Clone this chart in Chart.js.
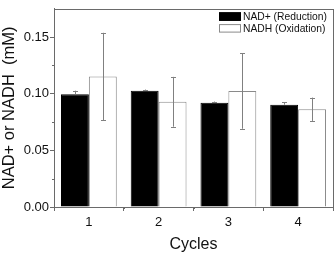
<!DOCTYPE html>
<html>
<head>
<meta charset="utf-8">
<script src="https://cdn.jsdelivr.net/npm/chart.js@4/dist/chart.umd.min.js"></script>
<style>
  html, body { margin: 0; padding: 0; background: #fff; }
  #wrap { width: 336px; height: 254px; }
</style>
</head>
<body>
<div id="wrap"><canvas id="chart" width="336" height="254"></canvas></div>
<script>
// Data
const cycles = ['1', '2', '3', '4'];
const nadValues = [0.0995, 0.1027, 0.0921, 0.0903];
const nadErrors = [0.0032, 0.0010, 0.0010, 0.0023];
const nadhValues = [0.1153, 0.0929, 0.1024, 0.0863];
const nadhErrors = [0.0385, 0.0220, 0.0333, 0.0103];
const yTicks = [0, 0.05, 0.10, 0.15];
const yMinorTicks = [0.025, 0.075, 0.125];

const FONT = "'Liberation Sans', Arial, sans-serif";
const FRAME = '#6a6a6a';

// Error bars, drawn over the bars
const errorBars = {
    id: 'errorBars',
    afterDatasetsDraw(chart) {
        const ctx = chart.ctx;
        const y = chart.scales.y;
        ctx.save();
        ctx.strokeStyle = '#808080';
        ctx.lineWidth = 1;
        chart.data.datasets.forEach((ds, i) => {
            const meta = chart.getDatasetMeta(i);
            meta.data.forEach((bar, j) => {
                const v = ds.data[j];
                const e = ds.errors[j];
                const x = Math.round(bar.x) + 0.5;
                const top = y.getPixelForValue(v + e);
                const bottom = ds.upperOnly ? y.getPixelForValue(v) : y.getPixelForValue(v - e);
                ctx.beginPath();
                ctx.moveTo(x, top);
                ctx.lineTo(x, bottom);
                ctx.moveTo(x - 2.5, Math.round(top) + 0.5);
                ctx.lineTo(x + 2.5, Math.round(top) + 0.5);
                if (!ds.upperOnly) {
                    ctx.moveTo(x - 2.5, Math.round(bottom) + 0.5);
                    ctx.lineTo(x + 2.5, Math.round(bottom) + 0.5);
                }
                ctx.stroke();
            });
        });
        ctx.restore();
    }
};

// Box frame, minor ticks and legend
const frame = {
    id: 'frame',
    afterDraw(chart) {
        const ctx = chart.ctx;
        const a = chart.chartArea;
        const x = chart.scales.x;
        const y = chart.scales.y;
        ctx.save();
        ctx.strokeStyle = FRAME;
        ctx.lineWidth = 1;
        ctx.strokeRect(Math.round(a.left) + 0.5, Math.round(a.top) + 0.5,
            Math.round(a.right - a.left), Math.round(a.bottom - a.top));

        // minor ticks
        ctx.beginPath();
        yMinorTicks.forEach(v => {
            const py = Math.round(y.getPixelForValue(v)) + 0.5;
            ctx.moveTo(a.left, py);
            ctx.lineTo(a.left - 2, py);
        });
        for (let i = 0; i < cycles.length - 1; i++) {
            const px = Math.round((x.getPixelForValue(i) + x.getPixelForValue(i + 1)) / 2) + 0.5;
            ctx.moveTo(px, a.bottom);
            ctx.lineTo(px, a.bottom + 2);
        }
        ctx.stroke();

        // legend
        const lx = a.right - 114;
        ctx.font = '10.3px ' + FONT;
        ctx.textBaseline = 'middle';
        ctx.textAlign = 'left';
        chart.data.datasets.forEach((ds, i) => {
            const ty = a.top + 3.5 + i * 11.8;
            ctx.fillStyle = ds.backgroundColor;
            ctx.fillRect(lx, ty, 22, 8.5);
            ctx.strokeStyle = ds.borderColor;
            ctx.strokeRect(lx + 0.5, ty + 0.5, 21, 7.5);
            ctx.fillStyle = '#111';
            ctx.fillText(ds.label, lx + 24, ty + 4.8);
        });
        ctx.restore();
    }
};

new Chart(document.getElementById('chart'), {
    type: 'bar',
    data: {
        labels: cycles,
        datasets: [
            {
                label: 'NAD+ (Reduction)',
                data: nadValues,
                errors: nadErrors,
                upperOnly: true,
                backgroundColor: '#000000',
                borderColor: '#000000',
                borderWidth: 1
            },
            {
                label: 'NADH (Oxidation)',
                data: nadhValues,
                errors: nadhErrors,
                backgroundColor: '#ffffff',
                borderColor: '#8a8a8a',
                borderWidth: 1
            }
        ]
    },
    options: {
        responsive: false,
        animation: false,
        events: [],
        layout: { padding: { top: 4, right: 3, left: 0, bottom: 0 } },
        datasets: { bar: { categoryPercentage: 0.8, barPercentage: 1.0 } },
        plugins: {
            legend: { display: false },
            tooltip: { enabled: false }
        },
        scales: {
            x: {
                afterFit(scale) { scale.height = 47; },
                grid: { display: true, drawOnChartArea: false, tickLength: 4, color: FRAME },
                border: { display: true, color: FRAME },
                ticks: { color: '#111', padding: 4, font: { family: FONT, size: 13 } },
                title: {
                    display: true,
                    text: 'Cycles',
                    color: '#111',
                    padding: { top: 0, bottom: 0 },
                    font: { family: FONT, size: 16 }
                }
            },
            y: {
                min: 0,
                max: 0.175,
                afterFit(scale) { scale.width = 54; },
                afterBuildTicks(scale) { scale.ticks = yTicks.map(v => ({ value: v })); },
                grid: { display: true, drawOnChartArea: false, tickLength: 4, color: FRAME },
                border: { display: true, color: FRAME },
                ticks: {
                    color: '#111',
                    padding: 1,
                    font: { family: FONT, size: 13 },
                    callback: v => v.toFixed(2)
                },
                title: {
                    display: true,
                    text: 'NAD+ or NADH  (mM)',
                    color: '#111',
                    padding: 0,
                    font: { family: FONT, size: 16.5 }
                }
            }
        }
    },
    plugins: [errorBars, frame]
});
</script>
</body>
</html>
